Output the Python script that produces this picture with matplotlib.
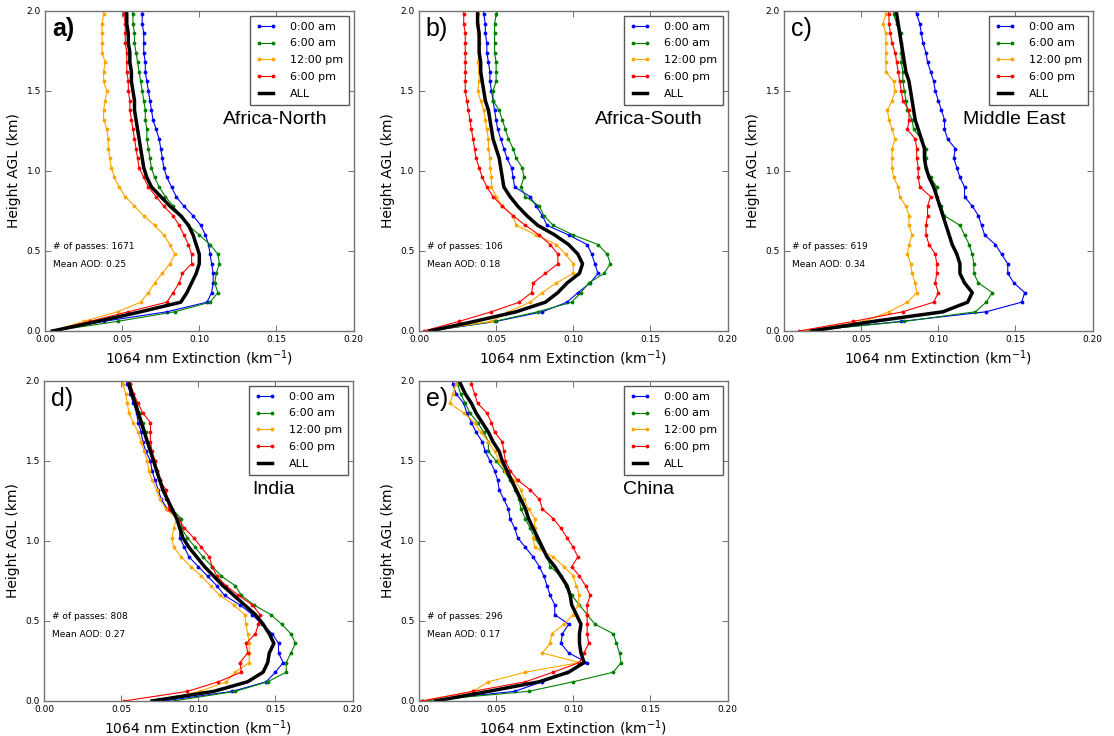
import matplotlib
matplotlib.use("Agg")
import matplotlib.pyplot as plt

# Altitude bins (km above ground level), 60 m spacing
heights = [0.00, 0.06, 0.12, 0.18, 0.24, 0.30, 0.36, 0.42, 0.48, 0.54,
           0.60, 0.66, 0.72, 0.78, 0.84, 0.90, 0.96, 1.02, 1.08, 1.14,
           1.20, 1.26, 1.32, 1.38, 1.44, 1.50, 1.56, 1.62, 1.68, 1.74,
           1.80, 1.86, 1.92, 1.98, 2.04]

series_labels = ["0:00 am", "6:00 am", "12:00 pm", "6:00 pm", "ALL"]
series_colors = ["blue", "green", "orange", "red", "black"]

regions = ["Africa-North", "Africa-South", "Middle East", "India", "China"]
panel_letters = ["a)", "b)", "c)", "d)", "e)"]
n_passes = [1671, 106, 619, 808, 296]
mean_aod = [0.25, 0.18, 0.34, 0.27, 0.17]

# ---- Africa-North ----
afn_0000 = [0.005, 0.038, 0.079, 0.105, 0.108, 0.109, 0.109, 0.108, 0.107, 0.106,
            0.104, 0.101, 0.096, 0.090, 0.085, 0.082, 0.079, 0.077, 0.076, 0.075,
            0.074, 0.072, 0.070, 0.069, 0.068, 0.067, 0.066, 0.065, 0.065, 0.064,
            0.064, 0.064, 0.063, 0.063, 0.063]
afn_0600 = [0.005, 0.047, 0.084, 0.107, 0.112, 0.110, 0.111, 0.113, 0.112, 0.107,
            0.100, 0.093, 0.088, 0.083, 0.078, 0.074, 0.071, 0.069, 0.068, 0.067,
            0.066, 0.066, 0.065, 0.065, 0.064, 0.063, 0.062, 0.061, 0.060, 0.059,
            0.058, 0.058, 0.057, 0.057, 0.056]
afn_1200 = [0.005, 0.025, 0.047, 0.062, 0.067, 0.071, 0.076, 0.081, 0.084, 0.081,
            0.077, 0.071, 0.064, 0.058, 0.052, 0.048, 0.045, 0.043, 0.042, 0.041,
            0.041, 0.040, 0.038, 0.038, 0.039, 0.040, 0.038, 0.038, 0.039, 0.037,
            0.037, 0.037, 0.037, 0.038, 0.038]
afn_1800 = [0.004, 0.029, 0.054, 0.079, 0.083, 0.087, 0.089, 0.095, 0.095, 0.093,
            0.090, 0.087, 0.083, 0.077, 0.072, 0.067, 0.064, 0.061, 0.060, 0.059,
            0.058, 0.057, 0.056, 0.055, 0.055, 0.054, 0.054, 0.053, 0.053, 0.053,
            0.052, 0.052, 0.052, 0.051, 0.051]
afn_all = [0.005, 0.034, 0.062, 0.088, 0.092, 0.095, 0.098, 0.100, 0.100, 0.098,
           0.096, 0.093, 0.088, 0.081, 0.075, 0.069, 0.066, 0.064, 0.063, 0.062,
           0.061, 0.060, 0.059, 0.058, 0.058, 0.057, 0.056, 0.056, 0.055, 0.055,
           0.054, 0.054, 0.053, 0.053, 0.052]

# ---- Africa-South ----
afs_0000 = [0.007, 0.050, 0.080, 0.096, 0.103, 0.111, 0.116, 0.114, 0.112, 0.109,
            0.097, 0.083, 0.080, 0.076, 0.072, 0.062, 0.061, 0.060, 0.057, 0.055,
            0.053, 0.051, 0.050, 0.049, 0.048, 0.047, 0.046, 0.046, 0.045, 0.044,
            0.044, 0.043, 0.043, 0.042, 0.041]
afs_0600 = [0.007, 0.049, 0.077, 0.099, 0.105, 0.110, 0.120, 0.124, 0.122, 0.116,
            0.100, 0.087, 0.081, 0.078, 0.069, 0.066, 0.068, 0.067, 0.063, 0.061,
            0.058, 0.056, 0.054, 0.052, 0.048, 0.048, 0.050, 0.050, 0.050, 0.049,
            0.049, 0.049, 0.049, 0.050, 0.052]
afs_1200 = [0.005, 0.047, 0.058, 0.072, 0.080, 0.089, 0.100, 0.100, 0.095, 0.089,
            0.076, 0.063, 0.061, 0.054, 0.050, 0.047, 0.047, 0.046, 0.046, 0.045,
            0.045, 0.044, 0.043, 0.042, 0.040, 0.038, 0.039, 0.039, 0.038, 0.039,
            0.039, 0.038, 0.038, 0.038, 0.037]
afs_1800 = [0.003, 0.026, 0.047, 0.065, 0.073, 0.074, 0.082, 0.090, 0.090, 0.085,
            0.078, 0.069, 0.061, 0.054, 0.048, 0.044, 0.041, 0.039, 0.037, 0.036,
            0.035, 0.034, 0.033, 0.032, 0.031, 0.030, 0.030, 0.030, 0.030, 0.030,
            0.030, 0.030, 0.029, 0.029, 0.029]
afs_all = [0.007, 0.036, 0.063, 0.082, 0.090, 0.096, 0.104, 0.106, 0.103, 0.097,
           0.088, 0.077, 0.070, 0.064, 0.059, 0.055, 0.054, 0.053, 0.052, 0.050,
           0.048, 0.047, 0.046, 0.045, 0.043, 0.042, 0.041, 0.040, 0.040, 0.039,
           0.039, 0.039, 0.038, 0.038, 0.038]

# ---- Middle East ----
mde_0000 = [0.015, 0.076, 0.131, 0.154, 0.156, 0.149, 0.145, 0.145, 0.141, 0.137,
            0.130, 0.128, 0.126, 0.122, 0.117, 0.117, 0.114, 0.112, 0.110, 0.111,
            0.106, 0.104, 0.104, 0.102, 0.100, 0.098, 0.097, 0.095, 0.093, 0.092,
            0.090, 0.089, 0.088, 0.086, 0.084]
mde_0600 = [0.015, 0.078, 0.124, 0.131, 0.135, 0.126, 0.123, 0.123, 0.122, 0.120,
            0.117, 0.114, 0.104, 0.102, 0.099, 0.099, 0.095, 0.092, 0.092, 0.092,
            0.089, 0.084, 0.083, 0.080, 0.079, 0.078, 0.077, 0.077, 0.076, 0.076,
            0.076, 0.076, 0.073, 0.071, 0.071]
mde_1200 = [0.012, 0.052, 0.068, 0.080, 0.086, 0.085, 0.083, 0.082, 0.080, 0.081,
            0.083, 0.081, 0.081, 0.079, 0.075, 0.074, 0.071, 0.070, 0.070, 0.070,
            0.072, 0.070, 0.068, 0.067, 0.070, 0.072, 0.071, 0.066, 0.066, 0.066,
            0.066, 0.066, 0.064, 0.066, 0.066]
mde_1800 = [0.010, 0.045, 0.077, 0.097, 0.100, 0.098, 0.099, 0.099, 0.098, 0.094,
            0.092, 0.092, 0.093, 0.093, 0.095, 0.088, 0.087, 0.087, 0.086, 0.086,
            0.085, 0.080, 0.081, 0.081, 0.077, 0.076, 0.075, 0.074, 0.073, 0.072,
            0.070, 0.069, 0.068, 0.068, 0.067]
mde_all = [0.018, 0.058, 0.103, 0.119, 0.122, 0.117, 0.114, 0.114, 0.112, 0.109,
           0.107, 0.105, 0.103, 0.101, 0.099, 0.097, 0.094, 0.092, 0.091, 0.091,
           0.089, 0.087, 0.085, 0.084, 0.083, 0.082, 0.081, 0.079, 0.078, 0.077,
           0.076, 0.075, 0.074, 0.073, 0.072]

# ---- India ----
ind_0000 = [0.078, 0.122, 0.144, 0.150, 0.155, 0.152, 0.152, 0.148, 0.141, 0.135,
            0.127, 0.117, 0.112, 0.106, 0.100, 0.094, 0.091, 0.088, 0.088, 0.087,
            0.080, 0.076, 0.074, 0.072, 0.070, 0.069, 0.066, 0.064, 0.063, 0.061,
            0.060, 0.058, 0.056, 0.054, 0.053]
ind_0600 = [0.084, 0.124, 0.145, 0.157, 0.157, 0.160, 0.163, 0.160, 0.154, 0.147,
            0.136, 0.128, 0.124, 0.115, 0.109, 0.103, 0.098, 0.093, 0.089, 0.089,
            0.083, 0.079, 0.077, 0.075, 0.073, 0.072, 0.069, 0.067, 0.066, 0.064,
            0.062, 0.060, 0.058, 0.056, 0.055]
ind_1200 = [0.072, 0.101, 0.118, 0.124, 0.133, 0.133, 0.133, 0.132, 0.131, 0.130,
            0.123, 0.114, 0.108, 0.102, 0.095, 0.089, 0.084, 0.083, 0.084, 0.086,
            0.079, 0.075, 0.073, 0.070, 0.068, 0.067, 0.065, 0.063, 0.061, 0.058,
            0.055, 0.054, 0.053, 0.051, 0.050]
ind_1800 = [0.052, 0.093, 0.113, 0.128, 0.127, 0.132, 0.131, 0.137, 0.139, 0.140,
            0.135, 0.126, 0.118, 0.112, 0.109, 0.107, 0.102, 0.097, 0.091, 0.087,
            0.081, 0.080, 0.079, 0.075, 0.073, 0.072, 0.070, 0.069, 0.069, 0.069,
            0.064, 0.061, 0.058, 0.056, 0.056]
ind_all = [0.070, 0.110, 0.132, 0.142, 0.145, 0.146, 0.149, 0.146, 0.142, 0.137,
           0.130, 0.123, 0.116, 0.110, 0.104, 0.099, 0.094, 0.090, 0.088, 0.086,
           0.083, 0.080, 0.077, 0.075, 0.073, 0.071, 0.069, 0.067, 0.065, 0.063,
           0.061, 0.059, 0.057, 0.055, 0.054]

# ---- China ----
chn_0000 = [0.002, 0.062, 0.080, 0.096, 0.109, 0.097, 0.092, 0.093, 0.097, 0.088,
            0.088, 0.085, 0.083, 0.081, 0.078, 0.074, 0.069, 0.064, 0.062, 0.059,
            0.058, 0.055, 0.052, 0.051, 0.049, 0.046, 0.043, 0.041, 0.037, 0.034,
            0.031, 0.029, 0.024, 0.022, 0.021]
chn_0600 = [0.002, 0.071, 0.100, 0.126, 0.131, 0.130, 0.128, 0.126, 0.114, 0.109,
            0.104, 0.099, 0.095, 0.092, 0.085, 0.083, 0.079, 0.075, 0.072, 0.069,
            0.066, 0.065, 0.062, 0.059, 0.055, 0.050, 0.045, 0.045, 0.042, 0.038,
            0.033, 0.030, 0.027, 0.025, 0.024]
chn_1200 = [0.002, 0.035, 0.045, 0.069, 0.104, 0.080, 0.085, 0.086, 0.094, 0.100,
            0.103, 0.104, 0.102, 0.100, 0.094, 0.087, 0.075, 0.074, 0.075, 0.075,
            0.071, 0.068, 0.066, 0.062, 0.056, 0.052, 0.049, 0.045, 0.040, 0.036,
            0.029, 0.020, 0.022, 0.024, 0.025]
chn_1800 = [0.002, 0.035, 0.069, 0.087, 0.104, 0.107, 0.110, 0.109, 0.109, 0.109,
            0.109, 0.111, 0.108, 0.104, 0.099, 0.103, 0.100, 0.096, 0.092, 0.087,
            0.080, 0.078, 0.072, 0.064, 0.059, 0.056, 0.055, 0.054, 0.049, 0.047,
            0.044, 0.038, 0.036, 0.034, 0.034]
chn_all = [0.011, 0.045, 0.078, 0.097, 0.107, 0.105, 0.104, 0.104, 0.105, 0.102,
           0.099, 0.098, 0.096, 0.092, 0.088, 0.083, 0.080, 0.077, 0.074, 0.071,
           0.069, 0.066, 0.063, 0.060, 0.057, 0.054, 0.052, 0.048, 0.045, 0.041,
           0.037, 0.034, 0.030, 0.027, 0.025]

profiles = [
    [afn_0000, afn_0600, afn_1200, afn_1800, afn_all],
    [afs_0000, afs_0600, afs_1200, afs_1800, afs_all],
    [mde_0000, mde_0600, mde_1200, mde_1800, mde_all],
    [ind_0000, ind_0600, ind_1200, ind_1800, ind_all],
    [chn_0000, chn_0600, chn_1200, chn_1800, chn_all],
]

fig = plt.figure(figsize=(11.14, 7.36), dpi=100)
fig.patch.set_facecolor("white")

ax_w, ax_h = 0.2770, 0.4348
lefts = [0.0404, 0.3761, 0.7038, 0.0395, 0.3761]
bottoms = [0.5503, 0.5503, 0.5503, 0.0476, 0.0476]

for i in range(5):
    ax = fig.add_axes([lefts[i], bottoms[i], ax_w, ax_h])
    for j in range(5):
        if j < 4:
            ax.plot(profiles[i][j], heights, color=series_colors[j], lw=0.8,
                    marker=".", ms=3.5, label=series_labels[j])
        else:
            ax.plot(profiles[i][j], heights, color="black", lw=2.5,
                    label=series_labels[j])
    ax.set_xlim(0, 0.2)
    ax.set_ylim(0, 2.0)
    ax.set_xticks([0.0, 0.05, 0.10, 0.15, 0.20])
    ax.set_xticklabels(["0.00", "0.05", "0.10", "0.15", "0.20"])
    ax.set_yticks([0.0, 0.5, 1.0, 1.5, 2.0])
    ax.set_yticklabels(["0.0", "0.5", "1.0", "1.5", "2.0"])
    ax.tick_params(direction="in", length=4, width=0.6, labelsize=6.5,
                   top=True, right=True, colors="0.35", labelcolor="black", pad=3)
    for sp in ax.spines.values():
        sp.set_color("0.45")
        sp.set_linewidth(1.0)
    ax.set_xlabel("1064 nm Extinction (km$^{-1}$)", fontsize=10, labelpad=3)
    ax.set_ylabel("Height AGL (km)", fontsize=10, labelpad=4)

    leg = ax.legend(loc="upper right", fontsize=8, numpoints=2, fancybox=False,
                    framealpha=1, edgecolor="0.35", handlelength=1.9,
                    handletextpad=1.2, labelspacing=0.62, borderpad=0.5,
                    borderaxespad=0.45)
    leg.get_frame().set_linewidth(1.0)

    ax.text(0.745, 0.66, regions[i], transform=ax.transAxes, ha="center",
            va="center", fontsize=14, family="Liberation Sans")
    ax.text(0.022, 0.945, panel_letters[i], transform=ax.transAxes, ha="left",
            va="center", fontsize=18, family="Liberation Sans",
            fontweight="bold" if i == 0 else "normal")
    ax.text(0.025, 0.263, f"# of passes: {n_passes[i]}", transform=ax.transAxes,
            ha="left", va="center", fontsize=6.5)
    ax.text(0.025, 0.209, f"Mean AOD: {mean_aod[i]:.2f}", transform=ax.transAxes,
            ha="left", va="center", fontsize=6.5)

fig.savefig("out.png", dpi=100, facecolor="white")
